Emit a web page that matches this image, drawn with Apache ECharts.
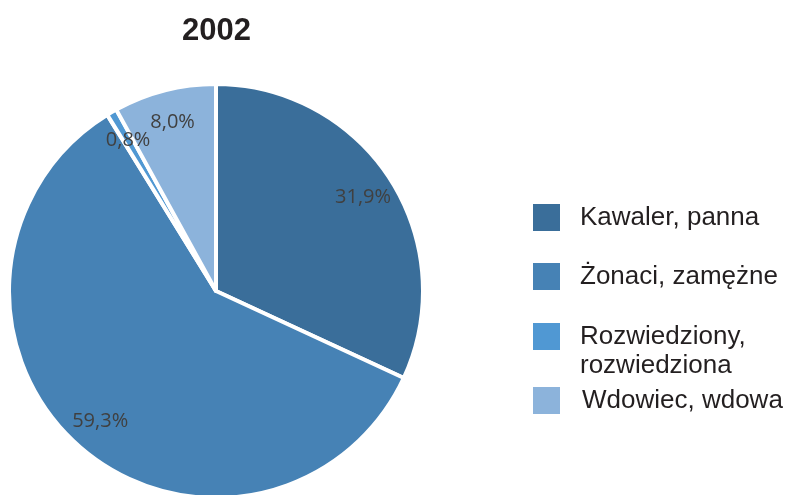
<!DOCTYPE html>
<html>
<head>
<meta charset="utf-8">
<script src="https://cdn.jsdelivr.net/npm/echarts@6/dist/echarts.min.js"></script>
<style>
  html, body { margin: 0; padding: 0; background: #fff; }
  #chart { width: 791px; height: 495px; }
</style>
</head>
<body>
<div id="chart"></div>
<script>
// dane
var categories = ['Kawaler, panna', 'Żonaci, zamężne', 'Rozwiedziony,\nrozwiedziona', 'Wdowiec, wdowa'];
var values = [31.9, 59.3, 0.8, 8.0];
var colors = ['#3a6e9a', '#4682b5', '#5098d3', '#8cb3db'];
var legendTops = [202, 261, 293, 385];

var chart = echarts.init(document.getElementById('chart'));

var pieData = categories.map(function (name, i) {
  return { name: name, value: values[i], itemStyle: { color: colors[i] } };
});

// osobna legenda dla kazdej pozycji (nierowne odstepy jak w oryginale)
var legends = categories.map(function (name, i) {
  var twoLines = name.indexOf('\n') >= 0;
  return {
    orient: 'vertical',
    left: 531,
    top: legendTops[i],
    padding: 0,
    itemWidth: 29,
    itemHeight: 29,
    itemGap: 10,
    icon: 'rect',
    selectedMode: false,
    data: [name],
    // pusta linia u gory -> kwadrat wyrownany do pierwszej linii tekstu
    formatter: function (n) {
      return twoLines ? '{s| }\n' + n : n;
    },
    textStyle: {
      fontFamily: 'Liberation Sans',
      fontSize: 26,
      lineHeight: 29,
      color: '#231f20',
      padding: [0, 0, 0, i === 3 ? 16 : 14],
      rich: { s: { fontSize: 26, lineHeight: 29 } }
    }
  };
});

var option = {
  animation: false,
  title: {
    text: '2002',
    left: 177,
    top: 11,
    textStyle: {
      fontFamily: 'Liberation Sans',
      fontWeight: 'bold',
      fontSize: 31,
      color: '#231f20'
    }
  },
  legend: legends,
  series: [
    {
      type: 'pie',
      center: [216, 291],
      radius: [0, 207],
      startAngle: 90,
      clockwise: true,
      itemStyle: { borderColor: '#fff', borderWidth: 4 },
      label: { show: false },
      labelLine: { show: false },
      data: pieData
    },
    {
      // tylko etykiety procentowe, blizej krawedzi
      type: 'pie',
      center: [216, 291],
      radius: [136, 207],
      startAngle: 90,
      clockwise: true,
      silent: true,
      itemStyle: { color: 'rgba(0,0,0,0)' },
      label: {
        show: true,
        position: 'inside',
        fontFamily: 'Open Sans',
        fontSize: 20,
        color: '#404040',
        formatter: function (p) {
          return p.value.toFixed(1).replace('.', ',') + '%';
        }
      },
      labelLine: { show: false },
      data: categories.map(function (name, i) {
        return { name: name + ' ', value: values[i] };
      })
    }
  ]
};

chart.setOption(option);
</script>
</body>
</html>
